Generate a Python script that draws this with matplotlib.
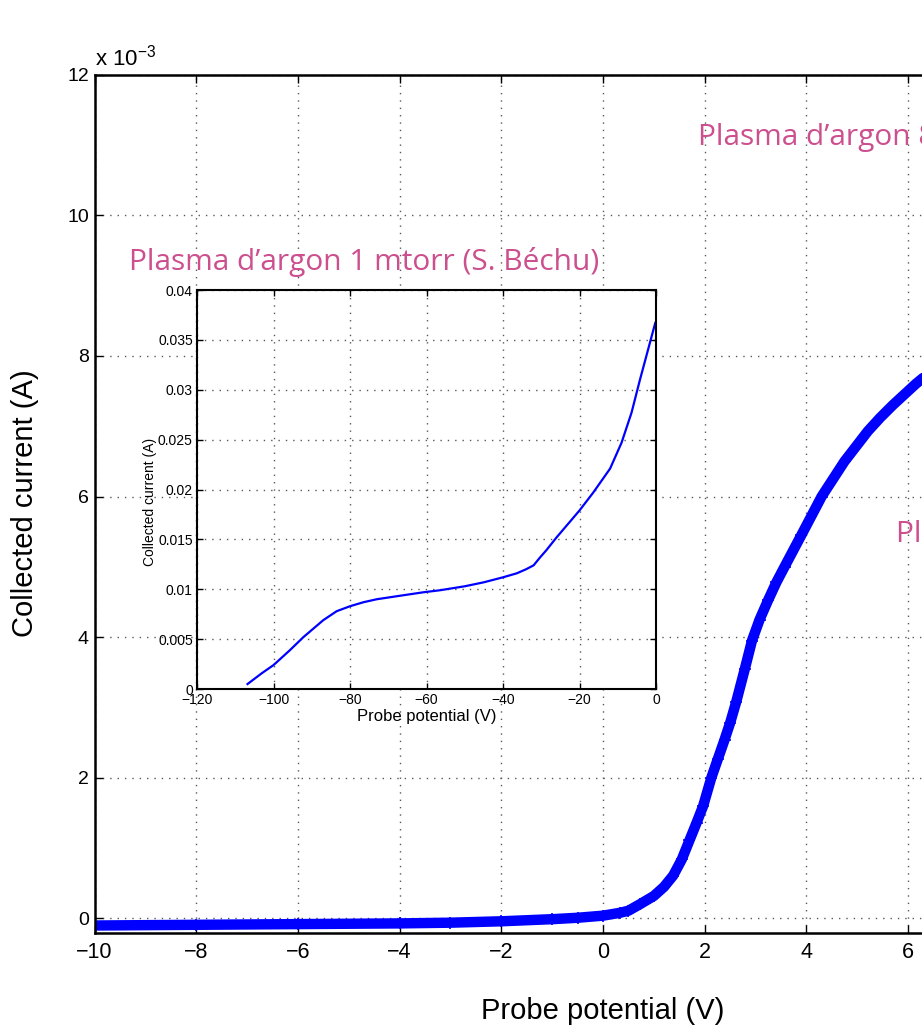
import numpy as np
import matplotlib
matplotlib.use('Agg')
import matplotlib.pyplot as plt

plt.rcParams['font.family'] = ['Liberation Sans', 'DejaVu Sans']
plt.rcParams['mathtext.fontset'] = 'custom'
plt.rcParams['mathtext.rm'] = 'Liberation Sans'
plt.rcParams['mathtext.it'] = 'Liberation Sans:italic'

# main curve, 8 mtorr probe (current in units of 1e-3 A)
v_main = [-10, -8, -6, -4, -3, -2, -1, -0.5, 0, 0.33, 0.5, 0.72, 1.0, 1.2, 1.38,
          1.55, 1.7, 1.84, 1.97, 2.13, 2.26, 2.39, 2.5, 2.62, 2.79, 2.93, 3.08,
          3.25, 3.41, 3.57, 3.9, 4.3, 4.75, 5.21, 5.45, 5.7, 6.15, 6.4]
i_main = [-0.10, -0.09, -0.08, -0.07, -0.06, -0.04, -0.01, 0.01, 0.04, 0.08, 0.11,
          0.20, 0.32, 0.45, 0.61, 0.84, 1.11, 1.36, 1.60, 2.0, 2.27, 2.54, 2.78,
          3.08, 3.55, 3.95, 4.25, 4.53, 4.78, 5.0, 5.45, 6.0, 6.5, 6.93, 7.12,
          7.3, 7.6, 7.75]

# inset curve, 1 mtorr probe
v_in = [-106.8, -103, -100, -95.7, -92.2, -87, -83.5, -80, -76.5, -73, -67.8, -60.8,
        -56.5, -50, -45, -40, -36.4, -34, -32, -30.3, -28.7, -26, -20, -16.4, -12,
        -9, -6.4, -4.2, -1.6, -0.2]
i_in = [0.0005, 0.0016, 0.0024, 0.0039, 0.0052, 0.0069, 0.0078, 0.0083, 0.0087,
        0.0090, 0.0093, 0.0097, 0.0099, 0.0103, 0.0107, 0.0112, 0.0116, 0.0120,
        0.0124, 0.0132, 0.0139, 0.0152, 0.0179, 0.0197, 0.0221, 0.0247, 0.0277,
        0.0310, 0.0347, 0.0367]

in_yticks = [0, 0.005, 0.01, 0.015, 0.02, 0.025, 0.03, 0.035, 0.04]
in_ylabels = ['0', '0.005', '0.01', '0.015', '0.02', '0.025', '0.03', '0.035', '0.04']

pink = '#cc4f8e'
grid_kw = dict(color='0.35', linestyle=(0, (1, 4.3)), linewidth=1.0)

fig = plt.figure(figsize=(9.22, 10.31), dpi=100)

ax = fig.add_axes([0.1025, 0.0955, 1.103, 0.8322])
ax.plot(v_main, i_main, '-+', color='blue', lw=7.5, markersize=9, mew=1.2,
        solid_joinstyle='round', solid_capstyle='round')
ax.set_xlim(-10, 10)
ax.set_ylim(-0.2, 12)
ax.set_xticks(range(-10, 11, 2))
ax.set_yticks(range(0, 13, 2))
ax.grid(True, **grid_kw)
ax.set_axisbelow(True)
ax.tick_params(direction='in', top=True, right=True, length=6, width=1,
               labelsize=14, pad=4)
ax.tick_params(axis='x', labelsize=15.5, pad=7)
for s in ax.spines.values():
    s.set_linewidth(1.8)
ax.set_xlabel('Probe potential (V)', fontsize=21, labelpad=24)
ax.set_ylabel('Collected current (A)', fontsize=21, labelpad=20)
ax.text(0, 1.005, 'x 10$^{-3}$', transform=ax.transAxes, fontsize=16,
        ha='left', va='bottom')

fig.text(129 / 922, 0.7377, 'Plasma d\u2019argon 1 mtorr (S. B\u00e9chu)',
         color=pink, fontsize=21.5, family='Open Sans')
fig.text(698 / 922, 0.8594, 'Plasma d\u2019argon 8 mtorr (S. B\u00e9chu)',
         color=pink, fontsize=21.5, family='Open Sans')
fig.text(896 / 922, 0.4746, 'Plasma d\u2019argon 8 mtorr',
         color=pink, fontsize=21.5, family='Open Sans')

ins = fig.add_axes([0.2137, 0.3317, 0.4978, 0.387])
ins.plot(v_in, i_in, color='blue', lw=1.6, solid_joinstyle='round')
ins.set_xlim(-120, 0)
ins.set_ylim(0, 0.04)
ins.set_xticks(range(-120, 1, 20))
ins.set_yticks(in_yticks)
ins.set_yticklabels(in_ylabels)
ins.grid(True, **grid_kw)
ins.tick_params(direction='in', top=True, right=True, length=4, width=1,
                labelsize=10, pad=3)
for s in ins.spines.values():
    s.set_linewidth(1.5)
ins.set_xlabel('Probe potential (V)', fontsize=12, labelpad=1)
ins.set_ylabel('Collected current (A)', fontsize=10)
ins.yaxis.set_label_coords(-0.087, 0.47)

fig.savefig('out.png', dpi=100)
